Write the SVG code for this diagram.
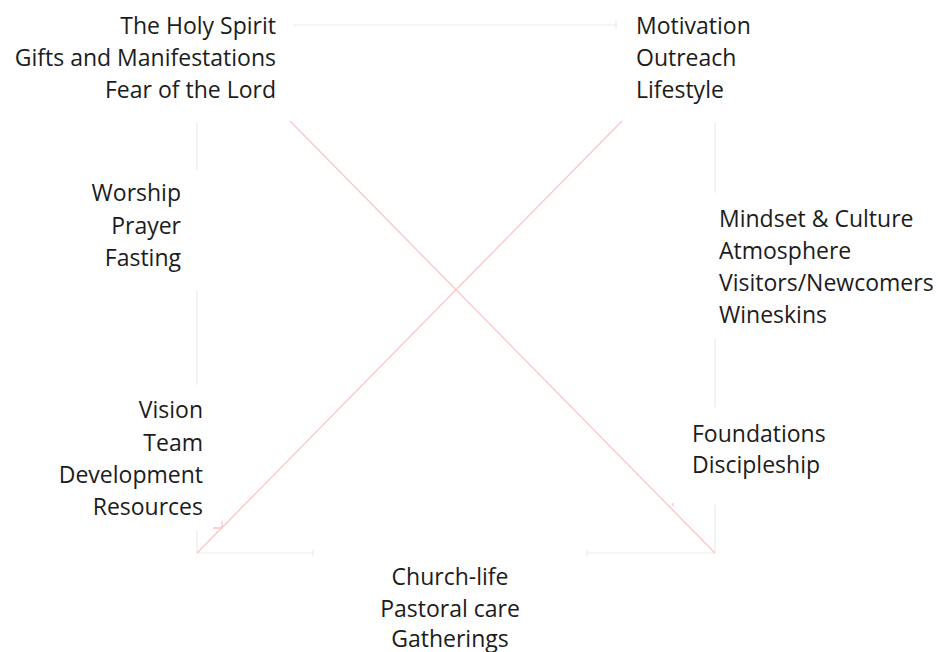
<svg xmlns="http://www.w3.org/2000/svg" width="938" height="652" viewBox="0 0 938 652">
<style>
text{font-family:"Open Sans","Noto Sans","Liberation Sans",sans-serif;font-size:23px;fill:#1c1c1c}
.r{text-anchor:end}
.m{text-anchor:middle}
.g{stroke:#ececec;stroke-width:1.2;fill:none}
.p{stroke:#ffc4c4;stroke-width:1.3;fill:none}
</style>
<rect width="938" height="652" fill="#fff"/>
<g id="connectors">
<path class="g" d="M293 25H616M616 21V29"/>
<path class="g" d="M197 122V170M197 290V385M197 530V553H313M313 550V556"/>
<path class="g" d="M715 122V193M715 338V407M715 505V553H587M587 550V556"/>
<path class="p" d="M290 121L715 553"/>
<path class="p" d="M622 121L197 553"/>
<path class="p" d="M213 528H222V521"/>
<path class="p" d="M673 503V506"/>
</g>
<g id="node-top-left">
<text class="r" x="276" y="34">The Holy Spirit</text>
<text class="r" x="276" y="66">Gifts and Manifestations</text>
<text class="r" x="276" y="98">Fear of the Lord</text>
</g>
<g id="node-top-right">
<text x="636" y="34">Motivation</text>
<text x="636" y="66">Outreach</text>
<text x="636" y="98">Lifestyle</text>
</g>
<g id="node-left-middle">
<text class="r" x="181" y="201">Worship</text>
<text class="r" x="181" y="234">Prayer</text>
<text class="r" x="181" y="266">Fasting</text>
</g>
<g id="node-right-middle">
<text x="719" y="227">Mindset &amp; Culture</text>
<text x="719" y="259">Atmosphere</text>
<text x="719" y="291">Visitors/Newcomers</text>
<text x="719" y="323">Wineskins</text>
</g>
<g id="node-left-bottom">
<text class="r" x="203" y="418">Vision</text>
<text class="r" x="203" y="451">Team</text>
<text class="r" x="203" y="483">Development</text>
<text class="r" x="203" y="515">Resources</text>
</g>
<g id="node-right-bottom">
<text x="692" y="442">Foundations</text>
<text x="692" y="473">Discipleship</text>
</g>
<g id="node-bottom">
<text class="m" x="450" y="585">Church-life</text>
<text class="m" x="450" y="617">Pastoral care</text>
<text class="m" x="450" y="647">Gatherings</text>
</g>
</svg>
